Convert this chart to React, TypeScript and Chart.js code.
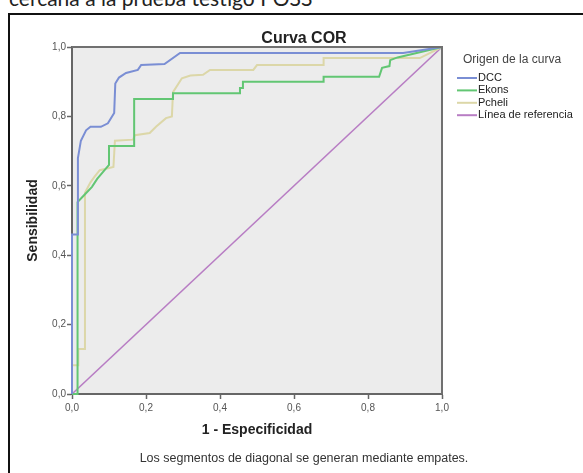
import React, { useEffect, useRef } from "react";
import { Chart, registerables } from "chart.js";

Chart.register(...registerables);

// ---- Data ----
const headerText = "cercana a la prueba testigo POSS";
const chartTitle = "Curva COR";
const xTitle = "1 - Especificidad";
const yTitle = "Sensibilidad";
const legendTitle = "Origen de la curva";
const footnote = "Los segmentos de diagonal se generan mediante empates.";

const seriesLabels = ["DCC", "Ekons", "Pcheli", "Línea de referencia"];
const seriesColors = ["#7a8ed4", "#62c673", "#dcd7a8", "#b87dc4"];

const tickValues = [0, 0.2, 0.4, 0.6, 0.8, 1.0];
const tickLabels = ["0,0", "0,2", "0,4", "0,6", "0,8", "1,0"];

const dccFpr = [0, 0, 0.016, 0.016, 0.024, 0.038, 0.05, 0.078, 0.097, 0.114, 0.117, 0.127, 0.146, 0.178, 0.187, 0.25, 0.292, 0.895, 1];
const dccTpr = [0, 0.46, 0.46, 0.68, 0.73, 0.76, 0.77, 0.77, 0.78, 0.81, 0.895, 0.912, 0.925, 0.934, 0.948, 0.951, 0.983, 0.983, 1];

const ekonsFpr = [0, 0.015, 0.015, 0.03, 0.054, 0.068, 0.084, 0.1, 0.1, 0.168, 0.168, 0.273, 0.273, 0.454, 0.454, 0.462, 0.462, 0.68, 0.68, 0.83, 0.838, 0.858, 0.86, 0.88, 1];
const ekonsTpr = [0, 0, 0.553, 0.57, 0.597, 0.62, 0.64, 0.66, 0.715, 0.715, 0.85, 0.85, 0.867, 0.867, 0.882, 0.882, 0.9, 0.9, 0.914, 0.914, 0.94, 0.945, 0.962, 0.97, 1];

const pcheliFpr = [0, 0, 0.017, 0.017, 0.035, 0.035, 0.05, 0.06, 0.075, 0.112, 0.116, 0.165, 0.17, 0.21, 0.227, 0.254, 0.27, 0.273, 0.297, 0.32, 0.354, 0.373, 0.49, 0.5, 0.68, 0.68, 0.94, 1];
const pcheliTpr = [0, 0.083, 0.083, 0.13, 0.13, 0.58, 0.61, 0.625, 0.645, 0.654, 0.73, 0.733, 0.746, 0.752, 0.77, 0.795, 0.8, 0.87, 0.91, 0.918, 0.92, 0.934, 0.934, 0.948, 0.948, 0.968, 0.968, 1];

const refFpr = [0, 1];
const refTpr = [0, 1];

const seriesFpr = [dccFpr, ekonsFpr, pcheliFpr, refFpr];
const seriesTpr = [dccTpr, ekonsTpr, pcheliTpr, refTpr];
const seriesWidths = [2, 2, 2, 1.6];

const FONT = '"Liberation Sans", Arial, sans-serif';

const decorPlugin = {
  id: "spssDecor",
  beforeDraw(chart: any) {
    const { ctx, chartArea: a } = chart;
    ctx.save();
    ctx.fillStyle = "#ececec";
    ctx.fillRect(a.left, a.top, a.right - a.left, a.bottom - a.top);
    ctx.restore();
  },
  afterDraw(chart: any) {
    const { ctx, chartArea: a } = chart;
    ctx.save();
    // top & right frame of the plot area
    ctx.strokeStyle = "#707070";
    ctx.lineWidth = 2;
    ctx.beginPath();
    ctx.moveTo(a.left, a.top);
    ctx.lineTo(a.right, a.top);
    ctx.lineTo(a.right, a.bottom);
    ctx.stroke();

    // chart title
    ctx.fillStyle = "#222";
    ctx.font = `bold 16px ${FONT}`;
    ctx.textAlign = "center";
    ctx.textBaseline = "alphabetic";
    ctx.fillText(chartTitle, 304, 43);

    // legend
    ctx.textAlign = "left";
    ctx.textBaseline = "middle";
    ctx.fillStyle = "#444";
    ctx.font = `12px ${FONT}`;
    ctx.fillText(legendTitle, 463, 60);
    ctx.font = `11px ${FONT}`;
    chart.data.datasets.forEach((ds: any, i: number) => {
      const y = 78 + i * 12.4;
      ctx.strokeStyle = ds.borderColor;
      ctx.lineWidth = 2;
      ctx.beginPath();
      ctx.moveTo(457, y);
      ctx.lineTo(477, y);
      ctx.stroke();
      ctx.fillStyle = "#222";
      ctx.fillText(ds.label, 478, y);
    });

    // footnote
    ctx.textAlign = "center";
    ctx.fillStyle = "#333";
    ctx.font = `12.5px ${FONT}`;
    ctx.fillText(footnote, 304, 459);
    ctx.restore();
  },
};

function setTicks(scale: any) {
  scale.ticks = tickValues.map((v) => ({ value: v }));
}

export default function App() {
  const ref = useRef<HTMLCanvasElement | null>(null);

  useEffect(() => {
    if (!ref.current) return;
    const datasets = seriesLabels.map((label, i) => ({
      label,
      data: seriesFpr[i].map((x, j) => ({ x, y: seriesTpr[i][j] })),
      borderColor: seriesColors[i],
      backgroundColor: seriesColors[i],
      borderWidth: seriesWidths[i],
      showLine: true,
      pointRadius: 0,
      pointHoverRadius: 0,
      tension: 0,
      fill: false,
      clip: false as any,
    }));

    const axisCommon = (title: string) => ({
      type: "linear" as const,
      min: 0,
      max: 1,
      afterBuildTicks: setTicks,
      ticks: {
        callback: (_v: any, i: number) => tickLabels[i],
        font: { size: 10, family: FONT },
        color: "#555",
        autoSkip: false,
        maxRotation: 0,
      },
      grid: {
        display: true,
        drawOnChartArea: false,
        drawTicks: true,
        tickLength: 5,
        tickColor: "#666",
        tickWidth: 1.5,
      },
      border: { display: true, color: "#666", width: 2 },
      title: {
        display: true,
        text: title,
        color: "#222",
        font: { size: 14, weight: "bold" as const, family: FONT },
        padding: { top: 1, bottom: 1 },
      },
    });

    const xAxis: any = axisCommon(xTitle);
    xAxis.ticks.padding = 3;
    xAxis.afterFit = (s: any) => {
      s.height = 46;
    };
    const yAxis: any = axisCommon(yTitle);
    yAxis.ticks.padding = 1;
    yAxis.afterFit = (s: any) => {
      s.width = 48;
    };

    const chart = new Chart(ref.current, {
      type: "scatter",
      data: { datasets },
      options: {
        animation: false,
        responsive: false,
        devicePixelRatio: 1,
        layout: { padding: { left: 24, top: 47, right: 141, bottom: 33 } },
        plugins: {
          legend: { display: false },
          tooltip: { enabled: false },
          title: { display: false },
        },
        scales: { x: xAxis, y: yAxis },
      },
      plugins: [decorPlugin],
    });
    return () => chart.destroy();
  }, []);

  return (
    <div
      style={{
        position: "fixed",
        left: 0,
        top: 0,
        width: 583,
        height: 473,
        background: "#fff",
        overflow: "hidden",
      }}
    >
      <div
        style={{
          position: "absolute",
          left: 9,
          top: -13,
          fontFamily: "Lato, 'Open Sans', sans-serif",
          fontSize: 21,
          lineHeight: "21px",
          color: "#222",
          whiteSpace: "nowrap",
        }}
      >
        {headerText}
      </div>
      <canvas
        ref={ref}
        width={583}
        height={473}
        style={{ position: "absolute", left: 0, top: 0, width: 583, height: 473 }}
      />
      <div
        style={{
          position: "absolute",
          left: 8,
          top: 13,
          width: 620,
          height: 520,
          border: "2.5px solid #111",
          boxSizing: "border-box",
          pointerEvents: "none",
        }}
      />
    </div>
  );
}
